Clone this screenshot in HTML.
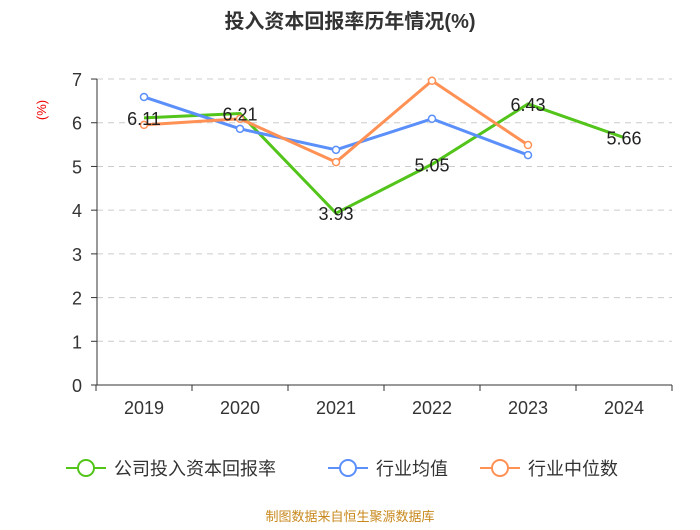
<!DOCTYPE html>
<html><head><meta charset="utf-8"><style>
body{margin:0;background:#fff;}
svg text{font-family:"Liberation Sans","Noto Sans CJK SC",sans-serif;}
</style></head><body>
<svg id="chart" width="700" height="525" xmlns="http://www.w3.org/2000/svg">
<text x="350" y="28" text-anchor="middle" font-size="20" font-weight="bold" fill="#333">投入资本回报率历年情况(%)</text>
<text x="46" y="110" font-size="13" fill="#e00" text-anchor="middle" transform="rotate(-90 46 110)">(%)</text>
<g id="grid"></g><g id="axes"></g><g id="series"></g>
<g>
<g><line x1="66" y1="468" x2="106" y2="468" stroke="#52c41a" stroke-width="2"/><circle cx="86" cy="468" r="8" fill="#fff" stroke="#52c41a" stroke-width="2"/><text x="114" y="475" font-size="18" fill="#333">公司投入资本回报率</text></g>
<g><line x1="328" y1="468" x2="368" y2="468" stroke="#5b8ff9" stroke-width="2"/><circle cx="348" cy="468" r="8" fill="#fff" stroke="#5b8ff9" stroke-width="2"/><text x="376" y="475" font-size="18" fill="#333">行业均值</text></g>
<g><line x1="480" y1="468" x2="520" y2="468" stroke="#ff9155" stroke-width="2"/><circle cx="500" cy="468" r="8" fill="#fff" stroke="#ff9155" stroke-width="2"/><text x="528" y="475" font-size="18" fill="#333">行业中位数</text></g>
</g>
<text x="350" y="521" text-anchor="middle" font-size="13" fill="#c8891e">制图数据来自恒生聚源数据库</text>
</svg>
<script>
const categories=["2019","2020","2021","2022","2023","2024"];
const companyValues=[6.11,6.21,3.93,5.05,6.43,5.66];
const industryAvg=[6.59,5.86,5.38,6.09,5.26];
const industryMedian=[5.95,6.09,5.10,6.96,5.49];
const yTicks=[0,1,2,3,4,5,6,7];
const NS="http://www.w3.org/2000/svg";
const x=i=>144+i*96;
const y=v=>385-v*43.71;
function mk(tag,attrs,parent){const e=document.createElementNS(NS,tag);for(const k in attrs)e.setAttribute(k,attrs[k]);parent.appendChild(e);return e;}
const grid=document.getElementById('grid'),axes=document.getElementById('axes'),series=document.getElementById('series');
yTicks.forEach(t=>{
 if(t>0){const g=mk('line',{x1:97,x2:672,y1:y(t),y2:y(t),stroke:'#ccc','stroke-dasharray':'6,5'},grid);
 
 }
 const tk=mk('line',{x1:91,x2:97,y1:y(t),y2:y(t),stroke:'#333'},axes);
 
 
 const l=mk('text',{x:82,y:y(t)+7,'text-anchor':'end','font-size':18,fill:'#333'},axes);l.textContent=t;
 
 
});
const ya=mk('line',{x1:97,x2:97,y1:y(7),y2:385,stroke:'#333'},axes);


const xa=mk('line',{x1:97,x2:672,y1:385,y2:385,stroke:'#333'},axes);


categories.forEach((c,i)=>{
 [x(i)-48,x(i)+48].forEach(px=>{const tk=mk('line',{x1:px,x2:px,y1:385,y2:391,stroke:'#333'},axes);
 
 });
 const l=mk('text',{x:x(i),y:414,'text-anchor':'middle','font-size':18,fill:'#333'},axes);l.textContent=c;
 
 
});
function line(vals,color,name,markers){
 const p=mk('polyline',{points:vals.map((v,i)=>x(i)+','+y(v)).join(' '),fill:'none',stroke:color,'stroke-width':3},series);
 
 
 if(markers)vals.forEach((v,i)=>{const c=mk('circle',{cx:x(i),cy:y(v),r:3.5,fill:'#fff',stroke:color,'stroke-width':1.5},series);
 
 });
}
line(companyValues,'#52c41a','company',false);
line(industryAvg,'#5b8ff9','industry-avg',true);
line(industryMedian,'#ff9155','industry-median',true);
companyValues.forEach((v,i)=>{const l=mk('text',{x:x(i),y:y(v)+7,'text-anchor':'middle','font-size':18,fill:'#222'},series);l.textContent=v.toFixed(2);
 
 });
</script>
</body></html>
